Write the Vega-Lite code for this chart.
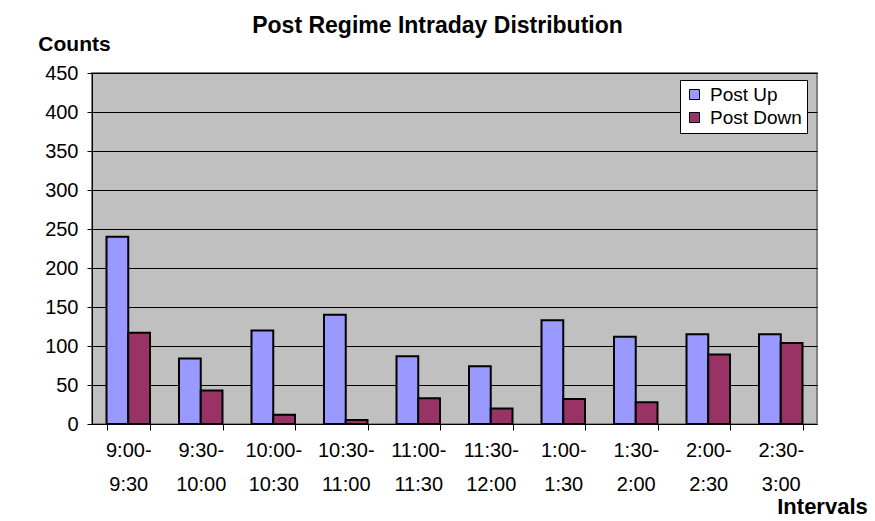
{
  "$schema": "https://vega.github.io/schema/vega-lite/v6.json",
  "width": 725,
  "height": 351,
  "autosize": {"type": "none"},
  "padding": {"left": 92, "top": 73, "right": 58, "bottom": 97},
  "background": "white",
  "title": {
    "text": "Post Regime Intraday Distribution",
    "font": "Liberation Sans",
    "fontSize": 23,
    "fontWeight": "bold",
    "color": "black",
    "anchor": "middle",
    "frame": "group",
    "baseline": "alphabetic",
    "dx": -17,
    "offset": -23
  },
  "config": {
    "view": {"fill": "#C0C0C0", "stroke": "#808080", "strokeWidth": 2},
    "font": "Liberation Sans"
  },
  "data": {
    "values": [
      {"interval": "9:00- 9:30", "series": "Post Up", "count": 240},
      {"interval": "9:00- 9:30", "series": "Post Down", "count": 117},
      {"interval": "9:30- 10:00", "series": "Post Up", "count": 84},
      {"interval": "9:30- 10:00", "series": "Post Down", "count": 43},
      {"interval": "10:00- 10:30", "series": "Post Up", "count": 120},
      {"interval": "10:00- 10:30", "series": "Post Down", "count": 12},
      {"interval": "10:30- 11:00", "series": "Post Up", "count": 140},
      {"interval": "10:30- 11:00", "series": "Post Down", "count": 5},
      {"interval": "11:00- 11:30", "series": "Post Up", "count": 87},
      {"interval": "11:00- 11:30", "series": "Post Down", "count": 33},
      {"interval": "11:30- 12:00", "series": "Post Up", "count": 74},
      {"interval": "11:30- 12:00", "series": "Post Down", "count": 20},
      {"interval": "1:00- 1:30", "series": "Post Up", "count": 133},
      {"interval": "1:00- 1:30", "series": "Post Down", "count": 32},
      {"interval": "1:30- 2:00", "series": "Post Up", "count": 112},
      {"interval": "1:30- 2:00", "series": "Post Down", "count": 28},
      {"interval": "2:00- 2:30", "series": "Post Up", "count": 115},
      {"interval": "2:00- 2:30", "series": "Post Down", "count": 89},
      {"interval": "2:30- 3:00", "series": "Post Up", "count": 115},
      {"interval": "2:30- 3:00", "series": "Post Down", "count": 104}
    ]
  },
  "mark": {"type": "bar", "stroke": "black", "strokeWidth": 2},
  "encoding": {
    "x": {
      "field": "interval",
      "type": "nominal",
      "sort": null,
      "scale": {"paddingInner": 0.4, "paddingOuter": 0.2},
      "axis": {
        "title": "Intervals",
        "titleFont": "Liberation Sans",
        "titleFontSize": 22,
        "titleFontWeight": "bold",
        "titleColor": "black",
        "titleX": 730,
        "titleY": 89,
        "titleAlign": "center",
        "titleBaseline": "alphabetic",
        "labelAngle": 0,
        "labelExpr": "split(datum.label, ' ')",
        "labelFont": "Liberation Sans",
        "labelFontSize": 20,
        "labelColor": "black",
        "labelLineHeight": 34,
        "labelPadding": 10,
        "labelBaseline": "top",
        "tickBand": "extent",
        "tickColor": "black",
        "tickSize": 6,
        "domainColor": "black",
        "domainWidth": 1
      }
    },
    "xOffset": {
      "field": "series",
      "type": "nominal",
      "sort": ["Post Up", "Post Down"],
      "scale": {"paddingInner": 0, "paddingOuter": 0}
    },
    "y": {
      "field": "count",
      "type": "quantitative",
      "scale": {"domain": [0, 450], "nice": false},
      "axis": {
        "values": [0, 50, 100, 150, 200, 250, 300, 350, 400, 450],
        "title": "Counts",
        "titleFont": "Liberation Sans",
        "titleFontSize": 21,
        "titleFontWeight": "bold",
        "titleColor": "black",
        "titleAngle": 0,
        "titleX": -18,
        "titleY": -23,
        "titleAlign": "center",
        "titleBaseline": "alphabetic",
        "labelFont": "Liberation Sans",
        "labelFontSize": 20,
        "labelColor": "black",
        "labelPadding": 9,
        "tickColor": "black",
        "tickSize": 5,
        "domainColor": "black",
        "grid": true,
        "gridColor": "black",
        "gridWidth": 1,
        "gridOpacity": 1
      }
    },
    "color": {
      "field": "series",
      "type": "nominal",
      "sort": ["Post Up", "Post Down"],
      "scale": {"domain": ["Post Up", "Post Down"], "range": ["#9999FF", "#993366"]},
      "legend": {
        "title": null,
        "orient": "none",
        "legendX": 588,
        "legendY": 7,
        "fillColor": "white",
        "strokeColor": "black",
        "padding": 5,
        "symbolType": "square",
        "symbolSize": 100,
        "symbolStrokeColor": "black",
        "symbolStrokeWidth": 1,
        "symbolOpacity": 1,
        "labelFont": "Liberation Sans",
        "labelFontSize": 19,
        "labelColor": "black",
        "labelOffset": 6,
        "rowPadding": 3
      }
    }
  }
}
